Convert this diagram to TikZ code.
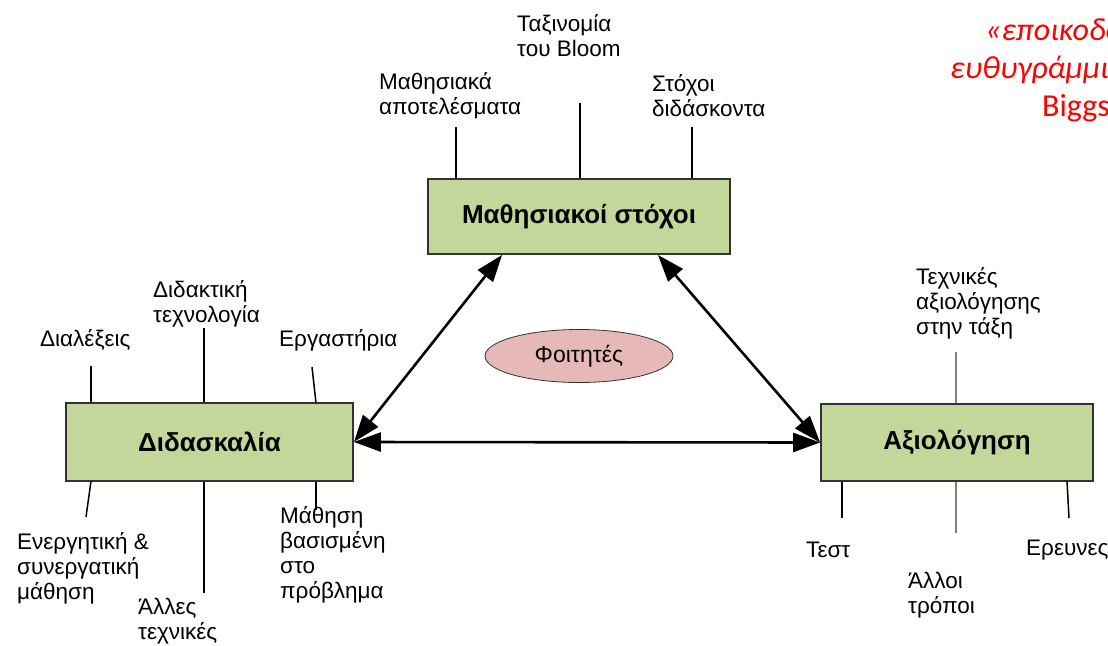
\documentclass[tikz,border=0pt]{standalone}
\usepackage{fontspec}
\setmainfont{Liberation Sans}
\newfontfamily\redfont{Carlito}
\usetikzlibrary{arrows.meta,shapes.geometric,calc}
\definecolor{boxgreen}{HTML}{C4D79B}
\definecolor{ellpink}{HTML}{E6B9B8}
\definecolor{boxborder}{HTML}{333333}
\definecolor{redtxt}{HTML}{FF0000}
\definecolor{stemgray}{HTML}{7F7F7F}
\begin{document}
\begin{tikzpicture}[x=1pt,y=-1pt,
  mainbox/.style={draw=boxborder, line width=1.8pt, fill=boxgreen, inner sep=0pt,
    font=\fontsize{26}{30}\selectfont\bfseries},
  lbl/.style={inner sep=0pt, align=left, anchor=west, font=\fontsize{22.5}{25}\selectfont},
  stem/.style={line width=1.5pt, black},
  graystem/.style={line width=1.5pt, stemgray},
  link/.style={line width=2.6pt, {Triangle[length=27pt,width=19pt]}-{Triangle[length=27pt,width=19pt]}},
  redl/.style={anchor=west, inner sep=0pt, text=redtxt},
]
\useasboundingbox (0,0) rectangle (1108,645);

% main boxes
\node[mainbox, minimum width=302pt, minimum height=75pt] (goals) at (579,216.5) {Μαθησιακοί στόχοι};
\node[mainbox, minimum width=287pt, minimum height=78pt] (teach) at (209.5,442) {Διδασκαλία};
\node[mainbox, minimum width=272pt, minimum height=77pt] (assess) at (957,442.5) {Αξιολόγηση};

% students ellipse
\node[ellipse, draw=boxborder, line width=0.8pt, fill=ellpink, minimum width=188pt, minimum height=53pt,
  inner sep=0pt, font=\fontsize{23}{26}\selectfont] (stud) at (579,356) {Φοιτητές};

% links
\coordinate (gl) at ($(goals.south west)+(75,0)$);
\coordinate (gr) at ($(goals.south east)+(-73,0)$);
\draw[link] (gl) -- (teach.east);
\draw[link] (gr) -- (assess.west);
\draw[link] (teach.east) -- (assess.west);

% labels top
\node[lbl] (lo) at (379,95.5) {Μαθησιακά\\αποτελέσματα};
\node[lbl] (bloom) at (517,35.5) {Ταξινομία\\του Bloom};
\node[lbl] (tg) at (652,95.5) {Στόχοι\\διδάσκοντα};
\coordinate (s1) at (456,127);
\coordinate (s2) at (580,103);
\coordinate (s3) at (692,127);
\draw[stem] (s1) -- (s1 |- goals.north);
\draw[stem] (s2) -- (s2 |- goals.north);
\draw[stem] (s3) -- (s3 |- goals.north);

% labels teaching top
\node[lbl] (lect) at (40,340) {Διαλέξεις};
\node[lbl] (tech) at (153,303.5) {Διδακτική\\τεχνολογία};
\node[lbl] (lab) at (279,340) {Εργαστήρια};
\coordinate (t1) at (91,366);
\coordinate (t2) at (204,328);
\coordinate (t3) at (312,367);
\draw[stem] (t1) -- (t1 |- teach.north);
\draw[stem] (t2) -- (t2 |- teach.north);
\draw[stem] (t3) -- (316,403);

% labels teaching bottom
\node[lbl] (act) at (17,568) {Ενεργητική \&\\συνεργατική\\μάθηση};
\node[lbl] (oth) at (138,621.5) {Άλλες\\τεχνικές};
\node[lbl] (pbl) at (280,555) {Μάθηση\\βασισμένη\\στο\\πρόβλημα};
\coordinate (b1) at (86,517);
\coordinate (b2) at (204,593);
\coordinate (b3) at (316,510);
\draw[stem] (b1) -- (91,481);
\draw[stem] (b2) -- (b2 |- teach.south);
\draw[stem] (b3) -- (b3 |- teach.south);

% labels assessment
\node[lbl] (cls) at (916,303) {Τεχνικές\\αξιολόγησης\\στην τάξη};
\node[lbl] (test) at (806,550) {Τεστ};
\node[lbl] (othw) at (908,595) {Άλλοι\\τρόποι};
\node[lbl] (res) at (1026,550) {Ερευνες};
\coordinate (a1) at (956,352);
\coordinate (a2) at (842,518);
\coordinate (a3) at (956,533);
\coordinate (a4) at (1069,518);
\draw[graystem] (a1) -- (a1 |- assess.north);
\draw[stem] (a2) -- (a2 |- assess.south);
\draw[graystem] (a3) -- (a3 |- assess.south);
\draw[stem] (a4) -- (1067,481);

% red title (cut by the picture edge, as in the reference)
\begin{scope}
\clip (0,0) rectangle (1108,645);
\node[redl, font=\redfont\itshape\fontsize{32}{36}\selectfont] (r1) at (985,32) {«εποικοδομητική};
\node[redl, font=\redfont\itshape\fontsize{32}{36}\selectfont] (r2) at (950,70) {ευθυγράμμιση»};
\node[redl, font=\redfont\fontsize{32}{36}\selectfont] (r3) at (1042,108) {Biggs};
\end{scope}
\end{tikzpicture}
\end{document}
